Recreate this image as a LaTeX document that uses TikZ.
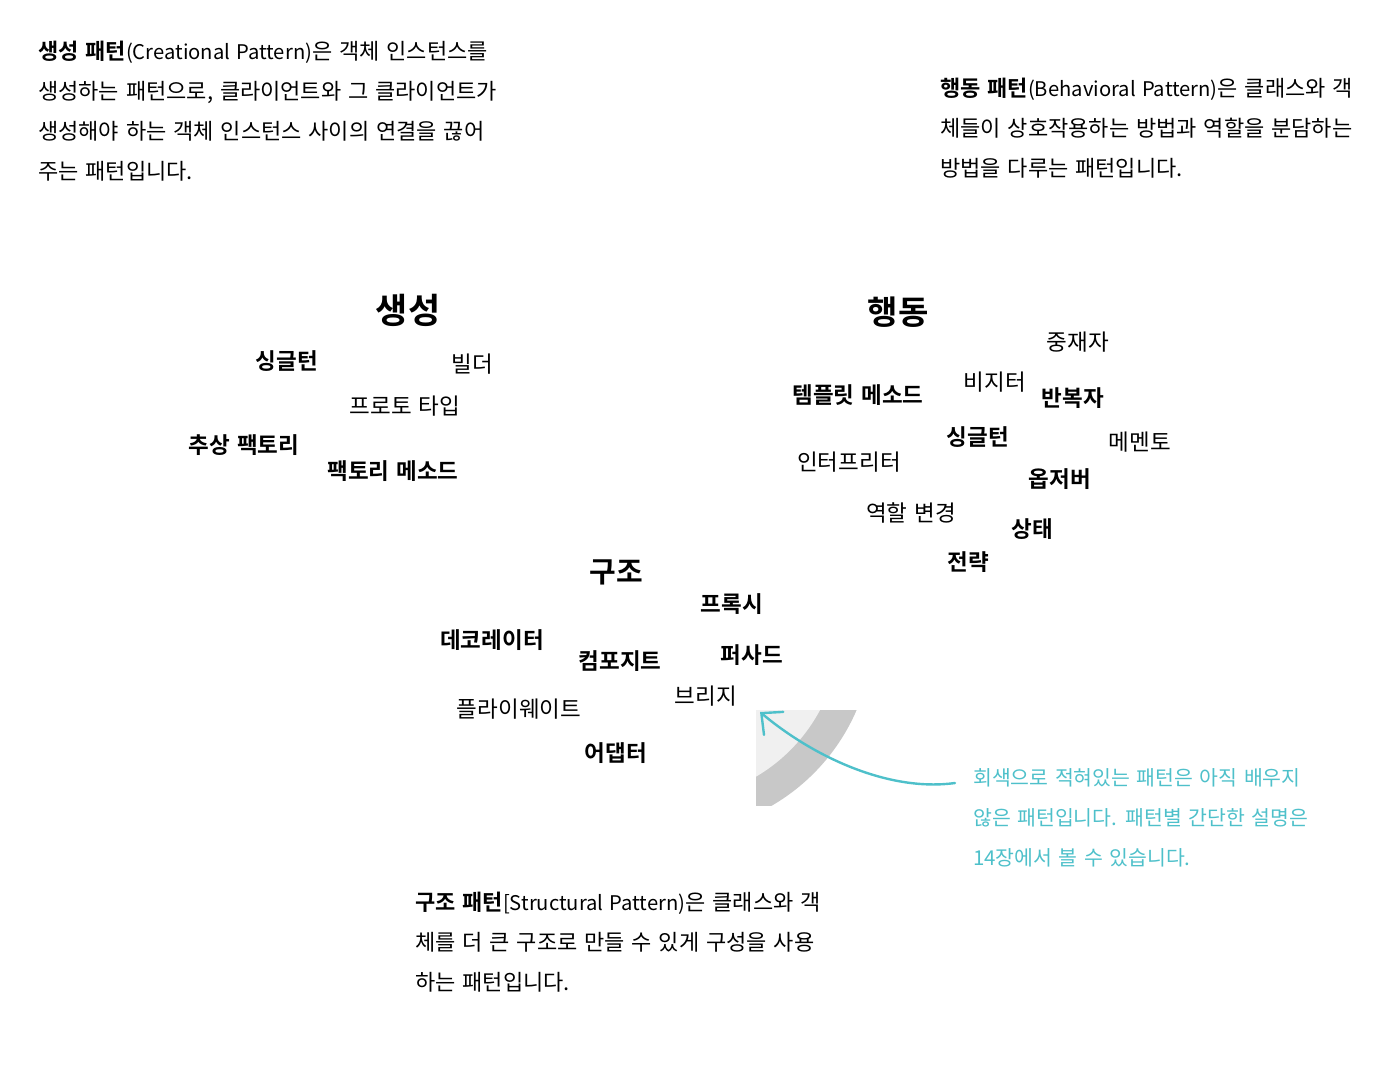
\documentclass[tikz,border=0pt]{standalone}
\usepackage{fontspec}
\setmainfont{Noto Sans CJK KR}[BoldFont={Noto Sans CJK KR Bold},WordSpace=1.4]
\newcommand\latinpart[1]{{\fontsize{20.2}{40}\selectfont #1}}
\usetikzlibrary{arrows.meta}
\definecolor{teal}{RGB}{78,192,202}
\definecolor{lightgr}{RGB}{240,240,240}
\definecolor{bandgr}{RGB}{200,200,200}
\tikzset{
  para/.style={anchor=north west, inner sep=0pt, align=left, font=\fontsize{22}{40}\selectfont},
  note/.style={anchor=north west, inner sep=0pt, align=left, text=teal, font=\fontsize{20.5}{40}\selectfont},
  cat/.style={inner sep=0pt, font=\fontsize{33}{36}\selectfont\bfseries},
  known/.style={inner sep=0pt, font=\fontsize{22.5}{24}\selectfont\bfseries},
  unknown/.style={inner sep=0pt, font=\fontsize{22.5}{24}\selectfont},
  pointer/.style={draw=teal, line width=2.4pt, line cap=round, -{Straight Barb[length=16pt,width=30pt,line cap=round]}}
}
\begin{document}
\begin{tikzpicture}[x=1pt,y=-1pt]
\path[use as bounding box] (0,0) rectangle (1395,1070);

% paragraphs
\node[para] (creational) at (38,41) {\textbf{생성 패턴}\latinpart{(Creational Pattern)}은 객체 인스턴스를\\생성하는 패턴으로, 클라이언트와 그 클라이언트가\\생성해야 하는 객체 인스턴스 사이의 연결을 끊어\\주는 패턴입니다.};
\node[para] (behavioral) at (940,78) {\textbf{행동 패턴}\latinpart{(Behavioral Pattern)}은 클래스와 객\\체들이 상호작용하는 방법과 역할을 분담하는\\방법을 다루는 패턴입니다.};
\node[para] (structural) at (415,892) {\textbf{구조 패턴}\latinpart{[Structural Pattern)}은 클래스와 객\\체를 더 큰 구조로 만들 수 있게 구성을 사용\\하는 패턴입니다.};

% gray arc fragment
\begin{scope}
\clip (756,710) rectangle (858,805);
\fill[bandgr] (670,630) circle (203);
\fill[lightgr] (670,630) circle (170);
\end{scope}

% creational words
\node[cat, font=\fontsize{35}{36}\selectfont\bfseries] (gen) at (408,310) {생성};
\node[known] (singletonA) at (287,361) {싱글턴};
\node[unknown] (builder) at (472,364) {빌더};
\node[unknown] (prototype) at (405,406) {프로토 타입};
\node[known] (absfactory) at (244,445) {추상 팩토리};
\node[known] (factorymethod) at (393,471) {팩토리 메소드};

% behavioral words
\node[cat] (beh) at (898,312) {행동};
\node[unknown] (mediator) at (1078,342) {중재자};
\node[unknown] (visitor) at (995,382) {비지터};
\node[known] (template) at (858,395) {템플릿 메소드};
\node[known] (iterator) at (1073,398) {반복자};
\node[known] (singletonB) at (978,437) {싱글턴};
\node[unknown] (memento) at (1140,442) {메멘토};
\node[unknown] (interpreter) at (849,462) {인터프리터};
\node[known] (observer) at (1060,479) {옵저버};
\node[unknown] (role) at (911,513) {역할 변경};
\node[known] (state) at (1032,529) {상태};
\node[known] (strategy) at (968,562) {전략};

% structural words
\node[cat, font=\fontsize{29}{36}\selectfont\bfseries] (str) at (616,572) {구조};
\node[known] (proxy) at (732,604) {프록시};
\node[known] (decorator) at (492,640) {데코레이터};
\node[known] (composite) at (620,661) {컴포지트};
\node[known] (facade) at (752,655) {퍼사드};
\node[unknown] (bridge) at (706,696) {브리지};
\node[unknown] (flyweight) at (519,709) {플라이웨이트};
\node[known] (adapter) at (616,753) {어댑터};

% annotation
\node[note] (annot) at (973,768) {회색으로 적혀있는 패턴은 아직 배우지\\않은 패턴입니다. 패턴별 간단한 설명은\\14장에서 볼 수 있습니다.};
\coordinate (arrowstart) at (955,783);
\coordinate (arrowtip) at (760,712);
\draw[pointer] (arrowstart) .. controls (890,792) and (815,758) .. (arrowtip);
\end{tikzpicture}
\end{document}
